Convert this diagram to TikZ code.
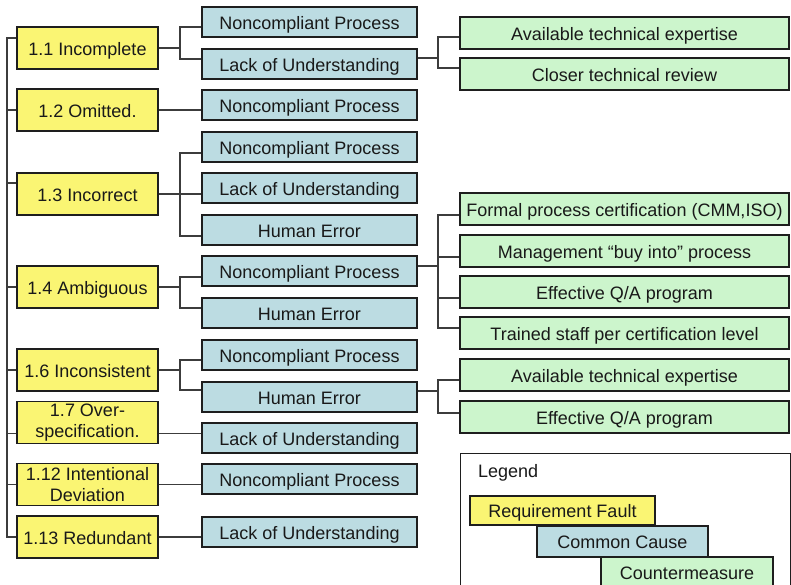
\documentclass[tikz,border=0pt]{standalone}
\usepackage{fontspec}
\setmainfont{Liberation Sans}
\usetikzlibrary{calc}
\definecolor{fyel}{RGB}{250,245,115}
\definecolor{fblu}{RGB}{188,220,226}
\definecolor{fgrn}{RGB}{204,245,204}
\definecolor{lin}{RGB}{60,60,60}
\definecolor{bord}{RGB}{30,30,30}
\tikzset{
  box/.style={draw=bord, line width=1.4pt, inner sep=1pt,
    font=\fontsize{18}{21}\selectfont, text=black!90, align=center},
  oneline/.style={text height=14pt, text depth=0pt},
  fault2/.style={box, fill=fyel, minimum width=141pt, minimum height=42pt},
  fault/.style={fault2, oneline},
  cause/.style={box, oneline, fill=fblu, minimum width=215pt, minimum height=30pt},
  cmeas/.style={box, oneline, fill=fgrn, minimum width=329pt, minimum height=32pt},
  conn/.style={draw=lin, line width=1.3pt},
}
\begin{document}
\begin{tikzpicture}[x=1pt,y=-1pt]
\clip (0,0) rectangle (791,584);
\fill[white] (0,0) rectangle (791,584);

% faults
\node[fault] (b11) at (87.5,48) {1.1 Incomplete};
\node[fault] (b12) at (87.5,110) {1.2 Omitted.};
\node[fault] (b13) at (87.5,194) {1.3 Incorrect};
\node[fault] (b14) at (87.5,287) {1.4 Ambiguous};
\node[fault] (b16) at (87.5,370) {1.6 Inconsistent};
\node[fault2] (b17) at (87.5,422.5) {1.7 Over-\\specification.};
\node[fault2] (b112) at (87.5,484.5) {1.12 Intentional\\Deviation};
\node[fault] (b113) at (87.5,537) {1.13 Redundant};

% causes
\node[cause] (c1) at (309.5,22) {Noncompliant Process};
\node[cause] (c2) at (309.5,64) {Lack of Understanding};
\node[cause] (c3) at (309.5,105) {Noncompliant Process};
\node[cause] (c4) at (309.5,147) {Noncompliant Process};
\node[cause] (c5) at (309.5,188) {Lack of Understanding};
\node[cause] (c6) at (309.5,230) {Human Error};
\node[cause] (c7) at (309.5,271) {Noncompliant Process};
\node[cause] (c8) at (309.5,313) {Human Error};
\node[cause] (c9) at (309.5,355) {Noncompliant Process};
\node[cause] (c10) at (309.5,397) {Human Error};
\node[cause] (c11) at (309.5,438) {Lack of Understanding};
\node[cause] (c12) at (309.5,479) {Noncompliant Process};
\node[cause] (c13) at (309.5,532) {Lack of Understanding};

% countermeasures
\node[cmeas] (g1) at (624.5,33) {Available technical expertise};
\node[cmeas] (g2) at (624.5,74) {Closer technical review};
\node[cmeas] (g3) at (624.5,209) {Formal process certification (CMM,ISO)};
\node[cmeas] (g4) at (624.5,251) {Management ``buy into'' process};
\node[cmeas] (g5) at (624.5,292) {Effective Q/A program};
\node[cmeas] (g6) at (624.5,333) {Trained staff per certification level};
\node[cmeas] (g7) at (624.5,375) {Available technical expertise};
\node[cmeas] (g8) at (624.5,417) {Effective Q/A program};

% helper x positions
\coordinate (sx) at (7,0);
\coordinate (jx) at (180,0);
\coordinate (jr) at (438,0);

% spine
\coordinate (t11) at ([yshift=10pt]b11.west);
\coordinate (t13) at ([yshift=11pt]b13.west);
\coordinate (t17) at ([yshift=-11pt]b17.west);
\draw[conn] (t11) -| (b113.west -| sx) -- (b113.west);
\draw[conn] (b12.west) -- (b12.west -| sx);
\draw[conn] (t13) -- (t13 -| sx);
\draw[conn] (b14.west) -- (b14.west -| sx);
\draw[conn] (b16.west) -- (b16.west -| sx);
\draw[conn] (t17) -- (t17 -| sx);
\draw[conn] (b112.west) -- (b112.west -| sx);

% fault -> cause
\draw[conn] (b11.east) -- (b11.east -| jx);
\draw[conn] ([yshift=-5pt]c1.west) -| (b11.east -| jx) |- ([yshift=5pt]c2.west);
\draw[conn] (b12.east) -- (b12.east -| c3.west);
\draw[conn] (b13.east) -- (b13.east -| c5.west);
\draw[conn] ([yshift=-6pt]c4.west) -| (b13.east -| jx) |- ([yshift=-6pt]c6.west);
\draw[conn] (b14.east) -- (b14.east -| jx);
\draw[conn] ([yshift=-6pt]c7.west) -| (b14.east -| jx) |- ([yshift=5pt]c8.west);
\draw[conn] (b16.east) -- (b16.east -| jx);
\draw[conn] ([yshift=-5pt]c9.west) -| (b16.east -| jx) |- ([yshift=7pt]c10.west);
\coordinate (t17e) at ([yshift=-11pt]b17.east);
\draw[conn] (t17e) -- (t17e -| c11.west);
\draw[conn] (b112.east) -- (b112.east -| c12.west);
\draw[conn] (b113.east) -- (b113.east -| c13.west);

% cause -> countermeasure
\coordinate (r2) at ([yshift=6pt]c2.east);
\draw[conn] (r2) -- (r2 -| jr);
\draw[conn] ([yshift=-4pt]g1.west) -| (r2 -| jr) |- ([yshift=6pt]g2.west);
\coordinate (r7) at ([yshift=5pt]c7.east);
\draw[conn] (r7) -- (r7 -| jr);
\draw[conn] ([yshift=-6pt]g3.west) -| (r7 -| jr) |- ([yshift=5pt]g6.west);
\coordinate (q4) at ([yshift=-6pt]g4.west);
\coordinate (q5) at ([yshift=-6pt]g5.west);
\draw[conn] (q4) -- (q4 -| jr);
\draw[conn] (q5) -- (q5 -| jr);
\coordinate (r10) at ([yshift=6pt]c10.east);
\draw[conn] (r10) -- (r10 -| jr);
\draw[conn] ([yshift=-5pt]g7.west) -| (r10 -| jr) |- ([yshift=4pt]g8.west);

% legend
\node[draw=bord, line width=1.4pt, fill=white, minimum width=330pt, minimum height=150pt,
      anchor=north west, inner sep=0pt] (legend) at (460,453) {};
\node[anchor=west, inner sep=0pt, font=\fontsize{18}{21}\selectfont, text=black!90] (legtitle) at (478,473) {Legend};
\node[box, oneline, fill=fyel, minimum width=185pt, minimum height=29pt] (lf) at (562.5,510.5) {Requirement Fault};
\node[box, oneline, fill=fblu, minimum width=171pt, minimum height=31pt] (lc) at (622.5,541.5) {Common Cause};
\node[box, oneline, fill=fgrn, minimum width=172pt, minimum height=31pt] (lm) at (687,572.5) {Countermeasure};
\end{tikzpicture}
\end{document}
